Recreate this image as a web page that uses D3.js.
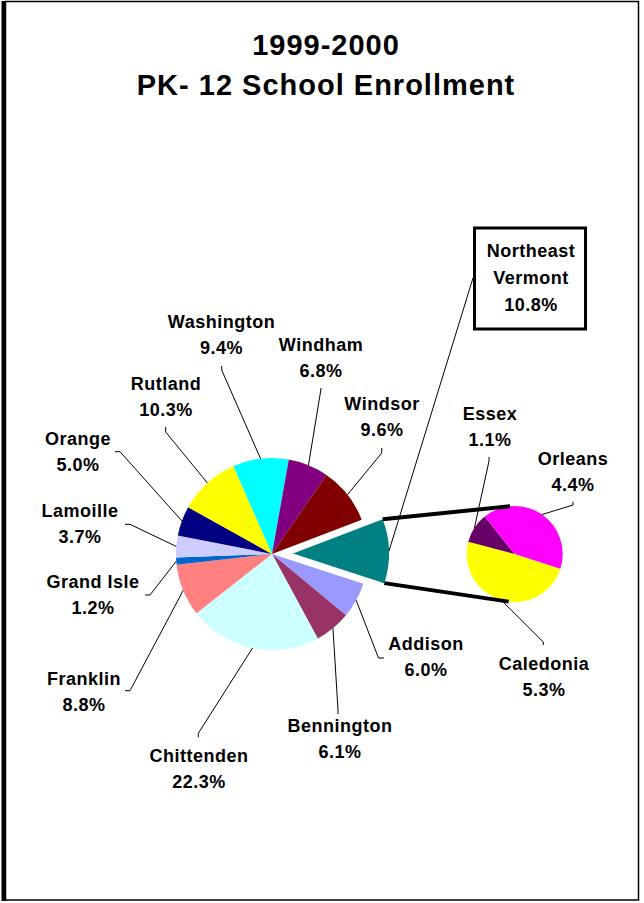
<!DOCTYPE html>
<html>
<head>
<meta charset="utf-8">
<script src="https://cdn.jsdelivr.net/npm/d3@7"></script>
<style>
  body { margin: 0; background: #fff; }
  svg text { font-family: "Liberation Sans", Arial, sans-serif; font-weight: bold; fill: #000; }
</style>
</head>
<body>
<script>
const w = 644;
const h = 903;

// main pie (alphabetical, "Northeast Vermont" split out)
const regions = ["Addison", "Bennington", "Chittenden", "Franklin", "Grand Isle", "Lamoille", "Orange", "Rutland", "Washington", "Windham", "Windsor", "Northeast Vermont"];
const shares = [6.0, 6.1, 22.3, 8.8, 1.2, 3.7, 5.0, 10.3, 9.4, 6.8, 9.6, 10.8];
const colors = ["#9999FF", "#993366", "#CCFFFF", "#FF8080", "#0066CC", "#CCCCFF", "#000080", "#FFFF00", "#00FFFF", "#800080", "#800000", "#008080"];

// second pie: the northeast kingdom
const nekRegions = ["Caledonia", "Essex", "Orleans"];
const nekShares = [5.3, 1.1, 4.4];
const nekColors = ["#FFFF00", "#660066", "#FF00FF"];

const titleLines = ["1999-2000", "PK- 12 School Enrollment"];

// layout of the labels: centre x, first baseline, leader points on the label side
const labelPos = {
  "Washington": {x: 221.5, y: 328, pts: [[221.7, 366], [221.7, 370]]},
  "Windham":    {x: 321, y: 351, pts: [[321, 388], [320.5, 392]]},
  "Rutland":    {x: 166, y: 390, pts: [[165.7, 427], [165.7, 432]]},
  "Windsor":    {x: 382, y: 410, pts: [[381.7, 448], [381.7, 453]]},
  "Orange":     {x: 78, y: 445, pts: [[115, 451.7], [120, 451.7]]},
  "Lamoille":   {x: 80, y: 517, pts: [[125, 524.3], [130, 524.3]]},
  "Grand Isle": {x: 93, y: 588, pts: [[145, 595], [150, 595]]},
  "Franklin":   {x: 84, y: 685, pts: [[125, 690.7], [130, 690.7]]},
  "Chittenden": {x: 199, y: 762, pts: [[198.3, 737.3], [198.3, 733.3]]},
  "Bennington": {x: 340, y: 732, pts: [[338, 714], [338, 710]]},
  "Addison":    {x: 426, y: 650, pts: [[384, 658], [378.5, 658]]},
  "Caledonia":  {x: 544, y: 670, pts: [[543.3, 645], [543.3, 642]]},
  "Essex":      {x: 490, y: 420, pts: [[489, 457], [489, 461]]},
  "Orleans":    {x: 573, y: 465, pts: [[573, 501.7], [573, 505]]}
};

const lineGap = 26;
const cx = 272, cy = 554, r = 96, explode = 21;
const cx2 = 514.7, cy2 = 554, r2 = 48;
const deg = Math.PI / 180;
const start = 108 * deg;

const svg = d3.select("body")
              .append("svg")
              .attr("width", w)
              .attr("height", h);

// frame
svg.append("rect")
   .attr("x", 5.5).attr("y", 1.5)
   .attr("width", 633).attr("height", 898.5)
   .attr("fill", "none").attr("stroke", "#000").attr("stroke-width", 1.5);
svg.append("rect")
   .attr("x", 1.5).attr("y", 1).attr("width", 4.5).attr("height", 900)
   .attr("fill", "#000");

// title
svg.append("text")
   .attr("x", 326).attr("text-anchor", "middle")
   .style("font-size", "29px").style("letter-spacing", "1px")
   .selectAll("tspan")
   .data(titleLines)
   .enter()
   .append("tspan")
   .attr("x", 326)
   .attr("y", (d, i) => 55 + i * 40)
   .text(d => d);

const pie = d3.pie().sort(null).value(d => d.v).startAngle(start).endAngle(start + 2 * Math.PI);
const arc = d3.arc().innerRadius(0).outerRadius(r);
const arc2 = d3.arc().innerRadius(0).outerRadius(r2);

const mainData = pie(regions.map((n, i) => ({name: n, v: shares[i], c: colors[i]})));
const nekData = pie(nekRegions.map((n, i) => ({name: n, v: nekShares[i], c: nekColors[i]})));

const mid = d => (d.startAngle + d.endAngle) / 2;
const offset = d => d.data.name === "Northeast Vermont" ? explode : 0;

const g = svg.append("g").attr("transform", "translate(" + cx + "," + cy + ")");
g.selectAll("path")
 .data(mainData)
 .enter()
 .append("path")
 .attr("d", arc)
 .attr("fill", d => d.data.c)
 .attr("transform", d => {
   const p = d3.pointRadial(mid(d), offset(d));
   return "translate(" + p[0] + "," + p[1] + ")";
 });

const g2 = svg.append("g").attr("transform", "translate(" + cx2 + "," + cy2 + ")");
g2.selectAll("path")
  .data(nekData)
  .enter()
  .append("path")
  .attr("d", arc2)
  .attr("fill", d => d.data.c);

// connector lines between the two pies
const ne = mainData[mainData.length - 1];
const neShift = d3.pointRadial(mid(ne), explode);
const neC = [cx + neShift[0], cy + neShift[1]];
const cornerTop = d3.pointRadial(ne.startAngle, r);
const cornerBot = d3.pointRadial(ne.endAngle, r);
const endTop = d3.pointRadial(-5.5 * deg, r2);
const endBot = d3.pointRadial(187.3 * deg, r2);
svg.append("line")
   .attr("x1", neC[0] + cornerTop[0]).attr("y1", neC[1] + cornerTop[1])
   .attr("x2", cx2 + endTop[0]).attr("y2", cy2 + endTop[1])
   .attr("stroke", "#000").attr("stroke-width", 4);
svg.append("line")
   .attr("x1", neC[0] + cornerBot[0]).attr("y1", neC[1] + cornerBot[1])
   .attr("x2", cx2 + endBot[0]).attr("y2", cy2 + endBot[1])
   .attr("stroke", "#000").attr("stroke-width", 4);

// leader lines and labels
const line = d3.line();
function drawLabel(d, ox, oy, rad) {
  const name = d.data.name;
  const pct = d.data.v.toFixed(1) + "%";
  if (name === "Northeast Vermont") {
    const e = d3.pointRadial(mid(d), rad);
    svg.append("path")
       .attr("d", line([[473, 278], [ox + e[0], oy + e[1]]]))
       .attr("fill", "none").attr("stroke", "#000").attr("stroke-width", 1);
    svg.append("rect")
       .attr("x", 474.5).attr("y", 228).attr("width", 111).attr("height", 101)
       .attr("fill", "#fff").attr("stroke", "#000").attr("stroke-width", 3);
    svg.append("text")
       .attr("text-anchor", "middle")
       .style("font-size", "18px").style("letter-spacing", "0.5px")
       .selectAll("tspan")
       .data(["Northeast", "Vermont", pct])
       .enter()
       .append("tspan")
       .attr("x", 531)
       .attr("y", (t, i) => 257 + i * 27)
       .text(t => t);
    return;
  }
  const lp = labelPos[name];
  const e = d3.pointRadial(mid(d), rad);
  const pts = lp.pts.concat([[ox + e[0], oy + e[1]]]);
  svg.append("path")
     .attr("d", line(pts))
     .attr("fill", "none").attr("stroke", "#000").attr("stroke-width", 1);
  svg.append("text")
     .attr("text-anchor", "middle")
     .style("font-size", "18px").style("letter-spacing", "0.5px")
     .selectAll("tspan")
     .data([name, pct])
     .enter()
     .append("tspan")
     .attr("x", lp.x)
     .attr("y", (t, i) => lp.y + i * lineGap)
     .text(t => t);
}

mainData.forEach(d => {
  if (d.data.name === "Northeast Vermont") drawLabel(d, neC[0], neC[1], r);
  else drawLabel(d, cx, cy, r);
});
nekData.forEach(d => drawLabel(d, cx2, cy2, r2));
</script>
</body>
</html>
